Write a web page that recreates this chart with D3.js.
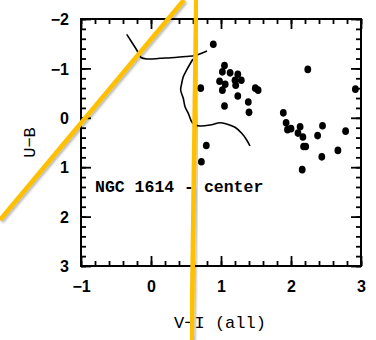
<!DOCTYPE html>
<html>
<head>
<meta charset="utf-8">
<script src="https://cdn.jsdelivr.net/npm/d3@7"></script>
<style>
  html, body { margin: 0; padding: 0; background: #fff; }
  svg { display: block; }
</style>
</head>
<body>
<svg id="chart" width="376" height="340"></svg>
<script>
// ---- data ----
const xTicks = [-1, 0, 1, 2, 3];
const yTicks = [-2, -1, 0, 1, 2, 3];
const xMinor = d3.range(-1, 3.001, 0.2).map(v => +v.toFixed(1));
const yMinor = d3.range(-2, 3.001, 0.2).map(v => +v.toFixed(1));

// clusters (V-I, U-B)
const vi = [0.89, 1.05, 1.02, 1.13, 1.24, 0.98, 1.06, 1.20, 1.29, 1.21, 1.02, 0.71, 1.49, 1.53, 1.24, 1.39, 1.40, 1.05, 0.79, 0.72,
            2.24, 2.92, 1.89, 1.93, 1.95, 2.00, 2.13, 2.10, 2.17, 2.45, 2.38, 2.78, 2.18, 2.21, 2.67, 2.44, 2.16];
const ub = [-1.49, -1.06, -0.93, -0.91, -0.88, -0.74, -0.68, -0.76, -0.76, -0.66, -0.56, -0.60, -0.60, -0.56, -0.44, -0.32, -0.11, -0.24, 0.56, 0.89,
            -0.98, -0.58, -0.10, 0.10, 0.24, 0.22, 0.18, 0.31, 0.39, 0.16, 0.36, 0.27, 0.58, 0.58, 0.66, 0.79, 1.05];

// model tracks
const track1VI = [-0.347, -0.286, -0.204, -0.143, -0.043, 0.129, 0.343, 0.500, 0.629, 0.714, 0.800];
const track1UB = [-1.690, -1.555, -1.372, -1.221, -1.190, -1.204, -1.221, -1.241, -1.261, -1.302, -1.352];
const track2VI = [0.600, 0.557, 0.510, 0.461, 0.439, 0.424, 0.461, 0.486, 0.533, 0.581, 0.629, 0.700, 0.843, 0.986, 1.081, 1.200, 1.296, 1.367, 1.414];
const track2UB = [-1.190, -1.089, -0.968, -0.832, -0.698, -0.563, -0.395, -0.225, -0.091, 0.079, 0.146, 0.166, 0.146, 0.099, 0.126, 0.192, 0.314, 0.449, 0.571];

// overlay (highlighter) strokes, in data units
const markVI = [[0.471, -2.157], [0.647, 0.581]];
const markUB = [[-2.385, 2.069], [-2.385, 4.498]];

const label = "NGC 1614 - center";
const xTitle = "V\u2212I (all)";
const yTitle = "U\u2212B";

// ---- drawing ----
const svg = d3.select("#chart");
const L = 81, R = 361, T = 19, B = 266;
const x = d3.scaleLinear().domain([-1, 3]).range([L, R]);
const y = d3.scaleLinear().domain([-2, 3]).range([T, B]);

const defs = svg.append("defs");
const f = defs.append("filter").attr("id", "sh").attr("x", "-20%").attr("y", "-20%").attr("width", "140%").attr("height", "140%");
f.append("feDropShadow").attr("dx", 1.5).attr("dy", 1.5).attr("stdDeviation", 1.2)
  .attr("flood-color", "#000").attr("flood-opacity", 0.3);

const tickFont = "'Liberation Sans', Arial, sans-serif";
const monoFont = "'Liberation Mono', 'DejaVu Sans Mono', monospace";

function styleAxis(g) {
  g.select(".domain").remove();
  g.selectAll(".tick line").attr("stroke", "#000").attr("stroke-width", 1.8);
}

// minor ticks
svg.append("g").attr("transform", `translate(0,${B})`)
  .call(d3.axisBottom(x).tickValues(xMinor).tickSize(-5).tickFormat("")).call(styleAxis);
svg.append("g").attr("transform", `translate(0,${T})`)
  .call(d3.axisTop(x).tickValues(xMinor).tickSize(-5).tickFormat("")).call(styleAxis);
svg.append("g").attr("transform", `translate(${L},0)`)
  .call(d3.axisLeft(y).tickValues(yMinor).tickSize(-5).tickFormat("")).call(styleAxis);
svg.append("g").attr("transform", `translate(${R},0)`)
  .call(d3.axisRight(y).tickValues(yMinor).tickSize(-5).tickFormat("")).call(styleAxis);

// major ticks
const fmt = d3.format("d");
const xb = svg.append("g").attr("transform", `translate(0,${B})`)
  .call(d3.axisBottom(x).tickValues(xTicks).tickSize(-10).tickPadding(15).tickFormat(fmt)).call(styleAxis);
xb.selectAll("text").attr("font-family", tickFont).attr("font-size", 16).attr("font-weight", "bold").attr("fill", "#000");
svg.append("g").attr("transform", `translate(0,${T})`)
  .call(d3.axisTop(x).tickValues(xTicks).tickSize(-10).tickFormat("")).call(styleAxis);
const yl = svg.append("g").attr("transform", `translate(${L},0)`)
  .call(d3.axisLeft(y).tickValues(yTicks).tickSize(-10).tickPadding(12).tickFormat(fmt)).call(styleAxis);
yl.selectAll("text").attr("font-family", tickFont).attr("font-size", 16).attr("font-weight", "bold").attr("fill", "#000").attr("dy", "0.36em");
svg.append("g").attr("transform", `translate(${R},0)`)
  .call(d3.axisRight(y).tickValues(yTicks).tickSize(-10).tickFormat("")).call(styleAxis);

// frame
svg.append("rect").attr("x", L).attr("y", T).attr("width", R - L).attr("height", B - T)
  .attr("fill", "none").attr("stroke", "#000").attr("stroke-width", 2);

// tracks
const line = d3.line().x(d => x(d[0])).y(d => y(d[1])).curve(d3.curveCatmullRom);
[[track1VI, track1UB], [track2VI, track2UB]].forEach(([a, b]) => {
  svg.append("path").datum(a.map((v, i) => [v, b[i]]))
    .attr("d", line).attr("fill", "none").attr("stroke", "#000").attr("stroke-width", 1.6);
});

// points
svg.append("g").selectAll("ellipse").data(vi.map((v, i) => [v, ub[i]])).join("ellipse")
  .attr("cx", d => x(d[0])).attr("cy", d => y(d[1])).attr("rx", 3.4).attr("ry", 3.8).attr("fill", "#000");

// text label
svg.append("text").attr("x", 95).attr("y", 192).attr("font-family", monoFont).attr("font-size", 16.5)
  .attr("font-weight", "bold").attr("fill", "#000").attr("xml:space", "preserve").text(label);

// axis titles
svg.append("text").attr("x", (L + R) / 2 - 1).attr("y", 328).attr("text-anchor", "middle")
  .attr("font-family", monoFont).attr("font-size", 17).attr("fill", "#000").text(xTitle);
svg.append("text").attr("transform", `translate(35,${(T + B) / 2}) rotate(-90)`).attr("text-anchor", "middle")
  .attr("font-family", monoFont).attr("font-size", 17).attr("fill", "#000").text(yTitle);

// overlay strokes
markVI.forEach((a, i) => {
  svg.append("line")
    .attr("x1", x(a[0])).attr("y1", y(markUB[i][0]))
    .attr("x2", x(a[1])).attr("y2", y(markUB[i][1]))
    .attr("stroke", "#FFC000").attr("stroke-width", 4.6).attr("filter", "url(#sh)");
});
</script>
</body>
</html>
